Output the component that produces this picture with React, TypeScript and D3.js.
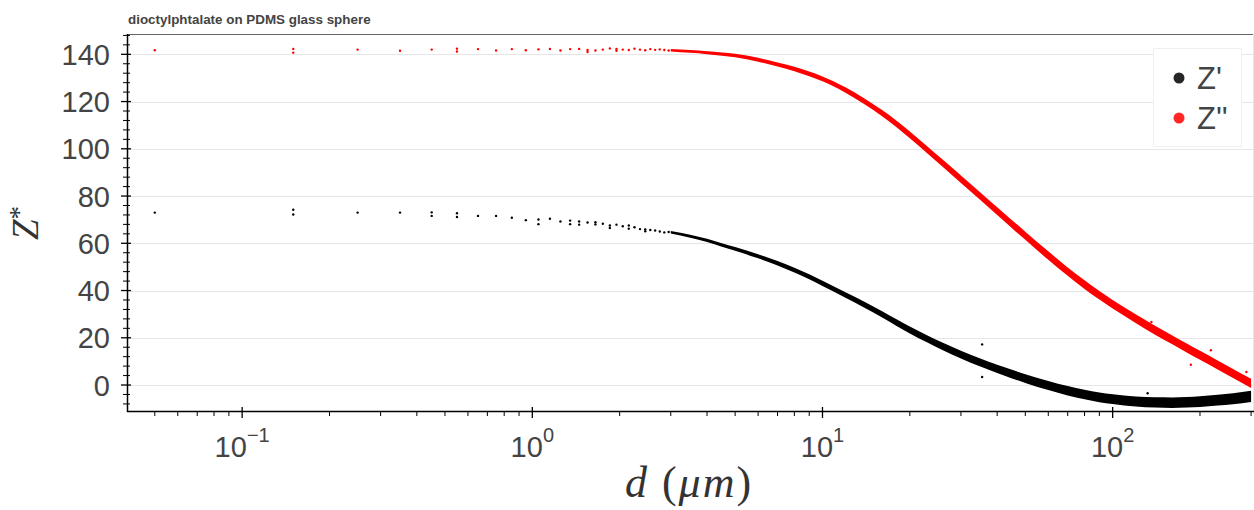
import React, { useEffect, useRef } from "react";
import * as d3 from "d3";

// low-distance readings, one dot per 0.1 um step
const sparseD = [
  0.05, 0.15, 0.25, 0.35, 0.45, 0.55, 0.65, 0.75, 0.85, 0.95,
  1.05, 1.15, 1.25, 1.35, 1.45, 1.55, 1.65, 1.75, 1.85, 1.95,
  2.05, 2.15, 2.25, 2.35, 2.45, 2.55, 2.65, 2.75, 2.85, 2.95,
];
const sparseZre = [
  73.0, 74.2, 73.0, 73.0, 73.1, 72.7, 71.6, 71.6, 70.8, 69.8,
  70.1, 70.4, 69.2, 69.6, 69.2, 68.8, 68.0, 68.3, 67.5, 67.9,
  67.2, 67.5, 66.8, 66.0, 65.9, 65.6, 65.4, 65.0, 64.6, 64.8,
];
const sparseZim = [
  141.7, 142.3, 142.0, 141.5, 142.0, 142.4, 142.2, 141.6, 142.2, 141.7,
  142.1, 142.3, 141.6, 142.2, 142.3, 141.8, 141.6, 142.0, 142.5, 141.5,
  142.0, 141.8, 142.4, 142.0, 141.7, 142.2, 141.9, 142.1, 141.8, 141.6,
];

// second readings at the same distance
const repeatDre = [0.15, 0.45, 0.55, 1.05, 1.35, 1.45, 1.65, 1.85, 2.15, 2.45];
const repeatZre = [72.2, 71.6, 71.1, 68.1, 68.1, 67.9, 68.9, 66.5, 66.2, 65.1];
const repeatDim = [0.15, 0.55, 1.55, 1.95];
const repeatZim = [140.7, 141.2, 141.0, 142.3];

// dense region, where the dots merge into a band
const denseD = [
  3, 3.5, 4, 4.5, 5, 6, 7, 8, 9, 10, 12, 14, 16, 18, 20, 23, 26, 30, 35, 40,
  45, 50, 60, 70, 80, 90, 100, 120, 140, 160, 180, 200, 230, 260, 300,
];
const denseZre = [
  64.7, 63.0, 61.2, 59.3, 57.6, 54.5, 51.5, 48.6, 45.8, 43.0, 38.1, 33.9, 30.0,
  26.4, 23.3, 19.5, 16.3, 12.9, 9.5, 6.8, 4.6, 2.7, -0.2, -2.4, -4.0, -5.2,
  -6.0, -7.0, -7.4, -7.5, -7.3, -7.0, -6.4, -5.8, -4.8,
];
const denseZim = [
  141.7, 141.2, 140.7, 140.1, 139.5, 137.7, 135.7, 133.8, 131.7, 129.6, 124.9,
  120.0, 115.2, 110.5, 105.9, 99.5, 93.8, 87.1, 79.9, 73.6, 68.1, 63.2, 54.8,
  48.0, 42.5, 38.0, 34.2, 28.1, 23.2, 19.2, 15.7, 12.6, 8.5, 4.9, 0.7,
];

// stray points off the band
const strayDre = [35.5, 35.5, 68, 132];
const strayZre = [17.2, 3.4, -0.8, -3.5];
const strayDim = [136, 218, 186, 289];
const strayZim = [26.7, 14.7, 8.6, 5.5];

const yTicks = [0, 20, 40, 60, 80, 100, 120, 140];
const xTicks = [0.1, 1, 10, 100];
const xTickExp = ["\u22121", "0", "1", "2"];
const legendLabels = ["Z'", "Z''"];
const seriesColors = ["#000000", "#ff0000"];

const W = 1254;
const H = 510;

const App = () => {
  const svgRef = useRef<SVGSVGElement>(null);

  useEffect(() => {
    const svg = d3.select(svgRef.current);
    svg.selectAll("*").remove();

    const left = 127;
    const right = 1254;
    const top = 34;
    const bottom = 411;

    const x = d3.scaleLog().domain([0.0401, 307]).range([left, right]);
    const y = d3.scaleLinear().domain([-11, 148.6]).range([bottom, top]);

    const font = "'Liberation Sans', Arial, Helvetica, sans-serif";
    const serif = "'Liberation Serif', 'DejaVu Serif', serif";

    svg.append("rect").attr("width", W).attr("height", H).attr("fill", "#fff");

    // title
    svg
      .append("text")
      .attr("x", 128)
      .attr("y", 24)
      .attr("font-family", font)
      .attr("font-weight", "bold")
      .attr("font-size", 13.4)
      .attr("fill", "#444")
      .text("dioctylphtalate on PDMS glass sphere");

    // grid
    svg
      .append("g")
      .selectAll("line")
      .data(yTicks)
      .join("line")
      .attr("x1", left)
      .attr("x2", right)
      .attr("y1", (d) => Math.round(y(d)) + 0.5)
      .attr("y2", (d) => Math.round(y(d)) + 0.5)
      .attr("stroke", "#e6e6e6")
      .attr("stroke-width", 1);

    // frame
    svg
      .append("line")
      .attr("x1", left)
      .attr("x2", right)
      .attr("y1", top + 0.5)
      .attr("y2", top + 0.5)
      .attr("stroke", "#666")
      .attr("stroke-width", 1.2);
    svg
      .append("line")
      .attr("x1", right - 0.5)
      .attr("x2", right - 0.5)
      .attr("y1", top)
      .attr("y2", bottom)
      .attr("stroke", "#e5e5e5");

    const clipId = "plot-clip";
    svg
      .append("clipPath")
      .attr("id", clipId)
      .append("rect")
      .attr("x", left)
      .attr("y", top)
      .attr("width", right - left)
      .attr("height", bottom - top);

    const plot = svg.append("g").attr("clip-path", `url(#${clipId})`);

    type P = { d: number; z: number };

    const drawSeries = (
      color: string,
      sparse: number[],
      repD: number[],
      repZ: number[],
      dense: number[],
      sD: number[],
      sZ: number[],
      spread: number[]
    ) => {
      const g = plot.append("g");
      // half thickness of the scatter band grows as the dots crowd together
      const half = d3
        .scaleLog()
        .domain([3, 8, 20, 60, 300])
        .range(spread)
        .clamp(true);
      const area = d3
        .area<P>()
        .x((p) => x(p.d))
        .y0((p) => y(p.z) + half(p.d))
        .y1((p) => y(p.z) - half(p.d))
        .curve(d3.curveMonotoneX);
      g.append("path")
        .attr("d", area(denseD.map((d, i) => ({ d, z: dense[i] }))))
        .attr("fill", color);

      const dots: P[] = [
        ...sparseD.map((d, i) => ({ d, z: sparse[i] })),
        ...repD.map((d, i) => ({ d, z: repZ[i] })),
        ...sD.map((d, i) => ({ d, z: sZ[i] })),
      ];
      g.selectAll("circle")
        .data(dots)
        .join("circle")
        .attr("cx", (p) => x(p.d))
        .attr("cy", (p) => y(p.z))
        .attr("r", 1.2)
        .attr("fill", color);
    };

    drawSeries(
      seriesColors[0],
      sparseZre,
      repeatDre,
      repeatZre,
      denseZre,
      strayDre,
      strayZre,
      [1.3, 2.4, 3.4, 4.6, 5.6]
    );
    drawSeries(
      seriesColors[1],
      sparseZim,
      repeatDim,
      repeatZim,
      denseZim,
      strayDim,
      strayZim,
      [1.2, 2.2, 3.4, 4.2, 4.6]
    );

    // y axis
    const ya = svg.append("g");
    ya.append("line")
      .attr("x1", left + 0.5)
      .attr("x2", left + 0.5)
      .attr("y1", top)
      .attr("y2", bottom + 1)
      .attr("stroke", "#000")
      .attr("stroke-width", 1.5);
    const yMinor = d3.range(-8, 149, 4).filter((v) => v % 20 !== 0);
    ya.selectAll(".ymin")
      .data(yMinor)
      .join("line")
      .attr("x1", left - 4)
      .attr("x2", left + 3)
      .attr("y1", (d) => y(d))
      .attr("y2", (d) => y(d))
      .attr("stroke", "#000")
      .attr("stroke-width", 1);
    ya.selectAll(".ymaj")
      .data(yTicks)
      .join("line")
      .attr("x1", left - 6)
      .attr("x2", left + 4)
      .attr("y1", (d) => y(d))
      .attr("y2", (d) => y(d))
      .attr("stroke", "#000")
      .attr("stroke-width", 1.3);
    ya.selectAll("text")
      .data(yTicks)
      .join("text")
      .attr("x", 110)
      .attr("y", (d) => y(d) + 10.5)
      .attr("text-anchor", "end")
      .attr("font-family", font)
      .attr("font-size", 29)
      .attr("fill", "#444")
      .text((d) => d);

    // x axis
    const xa = svg.append("g");
    xa.append("line")
      .attr("x1", left)
      .attr("x2", right)
      .attr("y1", bottom + 0.5)
      .attr("y2", bottom + 0.5)
      .attr("stroke", "#000")
      .attr("stroke-width", 1.5);
    const xMinor: number[] = [];
    [0.01, 0.1, 1, 10, 100].forEach((base) =>
      d3.range(2, 10).forEach((m) => {
        const v = base * m;
        if (v >= 0.0401 && v <= 307) xMinor.push(v);
      })
    );
    xa.selectAll(".xmin")
      .data(xMinor)
      .join("line")
      .attr("x1", (d) => x(d))
      .attr("x2", (d) => x(d))
      .attr("y1", bottom)
      .attr("y2", bottom + 5)
      .attr("stroke", "#000")
      .attr("stroke-width", 1);
    xa.selectAll(".xmaj")
      .data(xTicks)
      .join("line")
      .attr("x1", (d) => x(d))
      .attr("x2", (d) => x(d))
      .attr("y1", bottom - 4)
      .attr("y2", bottom + 7)
      .attr("stroke", "#000")
      .attr("stroke-width", 1.3);
    const xl = xa
      .selectAll("text")
      .data(xTicks)
      .join("text")
      .attr("x", (d) => x(d))
      .attr("y", 457)
      .attr("text-anchor", "middle")
      .attr("font-family", font)
      .attr("fill", "#444");
    xl.append("tspan").attr("font-size", 29).text("10");
    xl.append("tspan")
      .attr("font-size", 20)
      .attr("dy", -15)
      .text((_, i) => xTickExp[i]);

    // axis titles
    const xt = svg
      .append("text")
      .attr("x", 689)
      .attr("y", 497)
      .attr("text-anchor", "middle")
      .attr("font-family", serif)
      .attr("font-size", 44)
      .attr("letter-spacing", 2)
      .attr("fill", "#333");
    xt.append("tspan").attr("font-style", "italic").text("d");
    xt.append("tspan").text(" (");
    xt.append("tspan").attr("font-style", "italic").text("\u03bcm");
    xt.append("tspan").text(")");

    const yt = svg
      .append("text")
      .attr("transform", "translate(38,223) rotate(-90)")
      .attr("text-anchor", "middle")
      .attr("font-family", serif)
      .attr("font-size", 37)
      .attr("fill", "#333");
    yt.append("tspan").attr("font-style", "italic").text("Z");
    yt.append("tspan").attr("font-size", 27).attr("dy", -10).text("*");

    // legend
    const lg = svg.append("g");
    lg.append("rect")
      .attr("x", 1153.5)
      .attr("y", 48.5)
      .attr("width", 88)
      .attr("height", 98)
      .attr("fill", "#fff")
      .attr("stroke", "#f0f0f0");
    legendLabels.forEach((label, i) => {
      const cy = 78 + i * 40;
      lg.append("circle")
        .attr("cx", 1179)
        .attr("cy", cy)
        .attr("r", 5.5)
        .attr("fill", seriesColors[i])
        .attr("fill-opacity", 0.85);
      lg.append("text")
        .attr("x", 1197)
        .attr("y", cy + 11)
        .attr("font-family", font)
        .attr("font-size", 31)
        .attr("fill", "#444")
        .text(label);
    });
  }, []);

  return (
    <svg
      ref={svgRef}
      width={W}
      height={H}
      style={{ position: "absolute", left: 0, top: 0 }}
    />
  );
};

export default App;
